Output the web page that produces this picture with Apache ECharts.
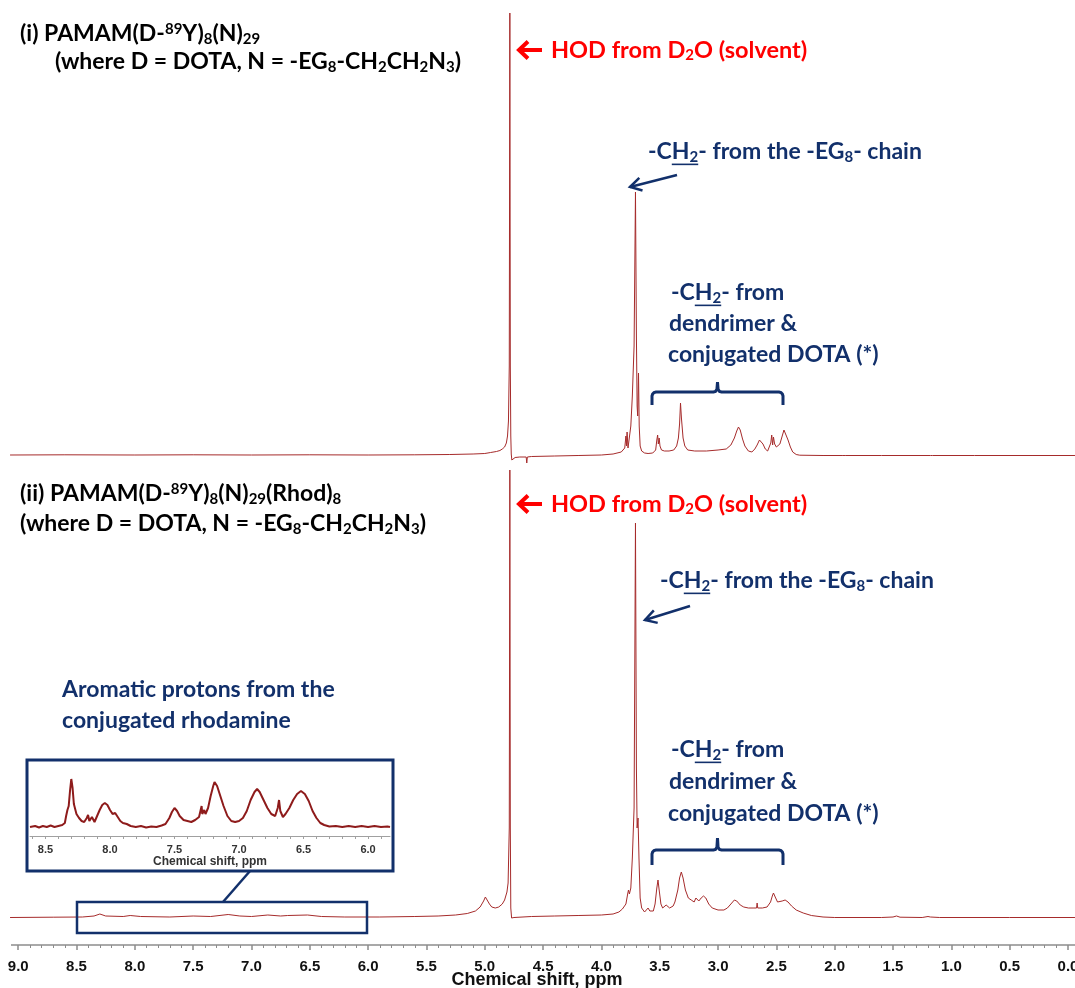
<!DOCTYPE html>
<html>
<head>
<meta charset="utf-8">
<script src="https://cdn.jsdelivr.net/npm/echarts@6/dist/echarts.min.js"></script>
<style>
  html, body { margin: 0; padding: 0; background: #fff; }
  #chart { width: 1075px; height: 988px; }
</style>
</head>
<body>
<div id="chart"></div>
<script>
// 1H NMR spectra in D2O: [chemical shift (ppm), intensity (a.u.)]
const spectrumI = [
  [9.07,1],[8.6,1.2],[8.0,1],[7.5,1.2],[7.0,1],[6.5,1.2],[6.0,1],[5.6,1.2],[5.3,1.5],[5.1,2],[5.0,2.5],
  [4.95,3.5],[4.9,4.5],[4.87,5.5],[4.85,7],[4.83,9],[4.815,13],[4.805,20],[4.797,35],[4.79,90],[4.785,443],
  [4.781,90],[4.777,20],[4.773,2],[4.768,-4],[4.755,-3],[4.74,-1.5],[4.70,-1],[4.645,-1],[4.64,-7],[4.635,-1],
  [4.60,-0.5],[4.4,0],[4.2,0.5],[4.0,1],[3.9,2],[3.83,4],[3.80,8],[3.79,20],[3.785,10],[3.78,24],[3.772,8],
  [3.762,10],[3.748,30],[3.735,60],[3.72,110],[3.708,264],[3.700,120],[3.694,50],[3.689,40],[3.682,83],[3.676,30],
  [3.668,10],[3.655,5],[3.63,3],[3.60,2.5],[3.56,3],[3.535,6],[3.525,16],[3.518,21],[3.512,12],[3.505,18],
  [3.498,10],[3.485,6],[3.46,5],[3.42,5],[3.38,6],[3.355,10],[3.34,18],[3.33,32],[3.322,53],[3.314,38],
  [3.30,18],[3.285,10],[3.26,6],[3.2,5],[3.1,5],[3.0,6],[2.93,7],[2.89,11],[2.86,18],[2.84,25],[2.825,29],
  [2.81,26],[2.79,17],[2.77,10],[2.74,5],[2.71,4],[2.685,7],[2.665,11],[2.645,16],[2.632,17],[2.615,12],
  [2.595,7],[2.575,5],[2.56,7],[2.548,13],[2.54,21],[2.532,11],[2.525,19],[2.515,12],[2.5,9],[2.49,8],
  [2.47,12],[2.45,20],[2.435,26],[2.42,24],[2.40,16],[2.38,9],[2.36,4],[2.33,1.5],[2.3,0.8],[2.1,0.5],
  [1.93,0.5],[1.92,2],[1.91,0.5],[1.6,0.5],[1.18,0.5],[1.17,2],[1.16,0.5],[0.8,0.5],[0.3,0.5],[-0.06,0.5]
];

const spectrumII = [
  [9.07,0.5],[8.7,0.8],[8.45,1],[8.35,2],[8.30,4],[8.25,2],[8.1,1.5],[8.04,2.5],[7.95,1.5],[7.7,1],[7.5,2],
  [7.35,1.5],[7.2,3.5],[7.1,2],[7.0,1.5],[6.86,3],[6.75,2],[6.69,2.5],[6.52,3],[6.4,1.5],[6.2,1],[5.9,1],
  [5.6,1.5],[5.4,2],[5.25,3],[5.15,4.5],[5.08,7],[5.04,11],[5.01,17],[4.995,21],[4.98,19],[4.96,14],[4.94,11],
  [4.91,10],[4.88,11],[4.85,14],[4.83,18],[4.81,26],[4.80,35],[4.79,90],[4.785,448],[4.781,90],[4.777,10],
  [4.77,0],[4.75,0.5],[4.6,1.5],[4.4,2],[4.2,2.5],[4.0,3],[3.9,4],[3.85,6],[3.82,9],[3.79,14],[3.775,24],
  [3.768,28],[3.76,24],[3.748,30],[3.735,60],[3.72,110],[3.708,395],[3.70,150],[3.694,90],[3.686,100],[3.678,60],
  [3.668,20],[3.655,10],[3.645,10],[3.63,6],[3.60,10],[3.585,7],[3.57,5],[3.555,7],[3.54,14],[3.525,30],
  [3.515,38],[3.505,28],[3.49,14],[3.475,10],[3.46,10],[3.445,13],[3.43,15],[3.415,10],[3.40,8],[3.385,12],
  [3.37,16],[3.36,18],[3.345,28],[3.33,40],[3.315,46],[3.30,40],[3.28,28],[3.255,20],[3.23,18],[3.205,16],
  [3.19,20],[3.18,19],[3.165,17],[3.145,20],[3.125,22],[3.105,20],[3.08,14],[3.05,10],[3.0,8],[2.95,8],
  [2.92,10],[2.89,14],[2.86,18],[2.84,17],[2.81,13],[2.78,11],[2.74,10],[2.70,10],[2.67,10],[2.665,15],
  [2.66,10],[2.62,10],[2.58,11],[2.55,16],[2.535,22],[2.525,25],[2.51,21],[2.49,16],[2.475,15],[2.45,17],
  [2.425,18],[2.40,16],[2.37,12],[2.33,8],[2.27,5],[2.2,2.5],[2.1,1],[2.0,0.5],[1.6,0.5],[1.5,1],[1.47,2],
  [1.44,0.8],[1.25,0.5],[1.2,1.5],[1.19,3],[1.18,1],[1.1,0.5],[0.5,0.5],[-0.06,0.5]
];

// expanded aromatic region of spectrum (ii)
const aromaticRegion = [
  [8.62,9],[8.58,10],[8.55,8.5],[8.52,10],[8.49,9],[8.46,10.5],[8.43,9],[8.40,10],[8.37,11],[8.35,13],
  [8.34,20],[8.33,26],[8.32,30],[8.31,45],[8.30,57],[8.29,48],[8.28,32],[8.26,22],[8.24,18],[8.22,15],
  [8.20,14],[8.18,18],[8.17,21],[8.16,15],[8.14,19],[8.12,14],[8.10,20],[8.08,26],[8.06,31],[8.04,33],
  [8.02,31],[8.00,26],[7.98,22],[7.96,23],[7.94,19],[7.92,15],[7.90,13],[7.87,12],[7.84,10],[7.80,9],
  [7.76,10],[7.72,8.5],[7.68,9.5],[7.64,9],[7.60,10.5],[7.57,12],[7.54,18],[7.52,24],[7.50,28],[7.48,25],
  [7.46,20],[7.43,16],[7.40,15],[7.37,14],[7.34,16],[7.31,19],[7.29,30],[7.285,22],[7.27,26],[7.26,22],
  [7.24,28],[7.22,40],[7.20,50],[7.19,54],[7.17,50],[7.15,42],[7.12,30],[7.09,20],[7.06,15],[7.03,14],
  [7.00,15],[6.97,18],[6.94,25],[6.91,36],[6.88,44],[6.86,47],[6.84,44],[6.81,36],[6.78,28],[6.75,22],
  [6.72,20],[6.70,28],[6.69,36],[6.68,25],[6.66,19],[6.64,22],[6.61,28],[6.58,36],[6.55,42],[6.52,45],
  [6.49,42],[6.46,35],[6.43,25],[6.40,18],[6.37,13],[6.34,11],[6.30,9.5],[6.25,10],[6.20,9],[6.15,10],
  [6.10,9],[6.05,10],[6.00,9],[5.95,10],[5.90,9],[5.85,9.5],[5.83,9]
];

const insetTickLabels = [6.0, 6.5, 7.0, 7.5, 8.0, 8.5];
const insetMinorTicks = [];
for (let v = 59; v <= 86; v++) insetMinorTicks.push(v / 10);

const LINE = '#A62B2B';
const NAVY = '#12306B';
const RED = '#FF0000';
const FONT = 'Lato';
const AXFONT = 'Liberation Sans';
const SUB = 0.64;

// text measuring for underlines
const mctx = document.createElement('canvas').getContext('2d');
function tw(text, size) { mctx.font = 'bold ' + size + 'px ' + FONT; return mctx.measureText(text).width; }

function richStyles(size, color) {
  const s = Math.round(size * SUB);
  const p = Math.round(size * 0.44);
  return {
    n: { fontSize: size, fontWeight: 'bold', fontFamily: FONT, fill: color },
    sub: { fontSize: s, fontWeight: 'bold', fontFamily: FONT, fill: color, padding: [p, 0, 0, 0] },
    sup: { fontSize: s, fontWeight: 'bold', fontFamily: FONT, fill: color, padding: [0, 0, p, 0] }
  };
}
function label(x, y, text, size, color) {
  return {
    type: 'text', x: x, y: y, z: 100,
    style: {
      text: text, rich: richStyles(size, color), fill: color,
      font: 'bold ' + size + 'px ' + FONT, textAlign: 'left', textVerticalAlign: 'middle'
    }
  };
}
// underline under the "H2" of a leading "-CH2-"
function underlineCH2(x, y, size, color) {
  const s = Math.round(size * SUB);
  const x0 = x + tw('-C', size);
  const x1 = x0 + tw('H', size) + tw('2', s);
  const yy = y + size * 0.32 + 5;
  return { type: 'line', z: 100, shape: { x1: x0, y1: yy, x2: x1, y2: yy }, style: { stroke: color, lineWidth: 1.6 } };
}
function bigArrow(x, y) {
  return [
    { type: 'polyline', z: 100, shape: { points: [[x + 10, y - 8.5], [x + 1, y], [x + 10, y + 8.5]] },
      style: { stroke: RED, lineWidth: 4, fill: null, lineJoin: 'miter' } },
    { type: 'line', z: 100, shape: { x1: x + 2, y1: y, x2: x + 24, y2: y }, style: { stroke: RED, lineWidth: 4 } }
  ];
}
function thinArrow(x1, y1, x2, y2) {
  const L = Math.hypot(x1 - x2, y1 - y2);
  const ux = (x1 - x2) / L, uy = (y1 - y2) / L;
  const a = Math.PI / 6, h = 13;
  const p1 = [x2 + h * (ux * Math.cos(a) - uy * Math.sin(a)), y2 + h * (ux * Math.sin(a) + uy * Math.cos(a))];
  const p2 = [x2 + h * (ux * Math.cos(a) + uy * Math.sin(a)), y2 + h * (-ux * Math.sin(a) + uy * Math.cos(a))];
  return [
    { type: 'line', z: 100, shape: { x1: x1, y1: y1, x2: x2, y2: y2 }, style: { stroke: NAVY, lineWidth: 2.5 } },
    { type: 'polyline', z: 100, shape: { points: [p1, [x2, y2], p2] }, style: { stroke: NAVY, lineWidth: 2.5, fill: null } }
  ];
}
// curly bracket opening downward, with a small notch in the middle
function brace(x1, x2, y, yEnd, yTop) {
  const xm = (x1 + x2) / 2;
  const pts = [
    [x1, yEnd], [x1, y + 4], [x1 + 0.6, y + 2], [x1 + 2, y + 0.6], [x1 + 4, y],
    [xm - 4, y], [xm - 2, y - 0.6], [xm - 0.6, y - 2.5], [xm, yTop],
    [xm + 0.6, y - 2.5], [xm + 2, y - 0.6], [xm + 4, y],
    [x2 - 4, y], [x2 - 2, y + 0.6], [x2 - 0.6, y + 2], [x2, y + 4], [x2, yEnd]
  ];
  return { type: 'polyline', z: 100, shape: { points: pts }, style: { stroke: NAVY, lineWidth: 3, fill: null } };
}

const T_BLACK = 23, T_RED = 23.5, T_NAVY = 23;
const chainLabel = '{n|-CH}{sub|2}{n|- from the -EG}{sub|8}{n|- chain}';
const whereLabel = '{n|(where D = DOTA, N = -EG}{sub|8}{n|-CH}{sub|2}{n|CH}{sub|2}{n|N}{sub|3}{n|)}';
const hodLabel = '{n|HOD from D}{sub|2}{n|O (solvent)}';

const graphics = [
  { type: 'rect', z: 90, shape: { x: 0, y: 938, width: 11, height: 14 }, style: { fill: '#fff' } },
  // axis title
  { type: 'text', x: 537, y: 980, z: 100,
    style: { text: 'Chemical shift, ppm', font: 'bold 18px ' + AXFONT, fill: '#111', textAlign: 'center', textVerticalAlign: 'middle' } },
  // spectrum (i)
  label(20, 34, '{n|(i) PAMAM(D-}{sup|89}{n|Y)}{sub|8}{n|(N)}{sub|29}', T_BLACK, '#000'),
  label(55, 62, whereLabel, T_BLACK, '#000'),
  ...bigArrow(518, 50),
  label(551, 50, hodLabel, T_RED, RED),
  label(648, 152, chainLabel, T_NAVY, NAVY),
  underlineCH2(648, 152, T_NAVY, NAVY),
  ...thinArrow(677, 175, 630, 187),
  label(671, 293, '{n|-CH}{sub|2}{n|- from}', T_NAVY, NAVY),
  underlineCH2(671, 293, T_NAVY, NAVY),
  label(669, 324, '{n|dendrimer &}', T_NAVY, NAVY),
  label(668, 355, '{n|conjugated DOTA (*)}', T_NAVY, NAVY),
  brace(652, 783, 392, 405, 382),
  // spectrum (ii)
  label(20, 494, '{n|(ii) PAMAM(D-}{sup|89}{n|Y)}{sub|8}{n|(N)}{sub|29}{n|(Rhod)}{sub|8}', T_BLACK, '#000'),
  label(20, 524, whereLabel, T_BLACK, '#000'),
  ...bigArrow(518, 504),
  label(551, 504, hodLabel, T_RED, RED),
  label(660, 581, chainLabel, T_NAVY, NAVY),
  underlineCH2(660, 581, T_NAVY, NAVY),
  ...thinArrow(690, 606, 645, 620),
  label(671, 750, '{n|-CH}{sub|2}{n|- from}', T_NAVY, NAVY),
  underlineCH2(671, 750, T_NAVY, NAVY),
  label(669, 782, '{n|dendrimer &}', T_NAVY, NAVY),
  label(668, 814, '{n|conjugated DOTA (*)}', T_NAVY, NAVY),
  brace(652, 783, 850, 865, 838),
  label(62, 690, '{n|Aromatic protons from the}', T_NAVY, NAVY),
  label(62, 721, '{n|conjugated rhodamine}', T_NAVY, NAVY),
  // inset frame, highlighted region and connector
  { type: 'rect', z: 100, shape: { x: 27, y: 760, width: 366, height: 111 }, style: { stroke: NAVY, lineWidth: 3, fill: null } },
  { type: 'rect', z: 100, shape: { x: 77, y: 902, width: 290, height: 31 }, style: { stroke: NAVY, lineWidth: 2.5, fill: null } },
  { type: 'line', z: 100, shape: { x1: 250, y1: 871, x2: 223, y2: 902 }, style: { stroke: NAVY, lineWidth: 2.5 } }
];

const hiddenX = (gi) => ({
  gridIndex: gi, type: 'value', min: -0.5, max: 9.5, interval: 0.5, inverse: true, show: false
});

const option = {
  animation: false,
  backgroundColor: '#fff',
  grid: [
    { left: -40.1, right: -51.3, top: 0, bottom: 532, outerBoundsMode: 'none', containLabel: false },
    // spectrum (ii) sits 27 px above the shared ppm axis
    { left: -40.1, right: -51.3, top: 462, bottom: 43, outerBoundsMode: 'none', containLabel: false },
    { left: 30, right: 685, top: 770, bottom: 152, outerBoundsMode: 'none', containLabel: false }
  ],
  xAxis: [
    hiddenX(0),
    {
      gridIndex: 1, type: 'value', min: -0.5, max: 9.5, interval: 0.5, inverse: true,
      axisLine: { onZero: false, lineStyle: { color: '#8c8c8c', width: 1.5 } },
      axisTick: { length: 5, lineStyle: { color: '#8c8c8c', width: 1.5 } },
      minorTick: { show: true, splitNumber: 5, length: 3, lineStyle: { color: '#8c8c8c', width: 1 } },
      splitLine: { show: false }, minorSplitLine: { show: false },
      axisLabel: { margin: 14, fontSize: 15, fontWeight: 'bold', fontFamily: AXFONT, color: '#111',
        formatter: (v) => Math.abs(v).toFixed(1) }
    },
    {
      gridIndex: 2, type: 'value', min: 5.83, max: 8.62, inverse: true,
      axisLine: { onZero: false, lineStyle: { color: '#a0a0a0', width: 1 } },
      axisTick: { customValues: insetMinorTicks, length: 3, lineStyle: { color: '#a0a0a0' } },
      splitLine: { show: false },
      axisLabel: { customValues: insetTickLabels, margin: 8, fontSize: 11, fontWeight: 'bold', fontFamily: AXFONT,
        color: '#333', formatter: (v) => v.toFixed(1) },
      name: 'Chemical shift, ppm', nameLocation: 'middle', nameGap: 20,
      nameTextStyle: { fontSize: 12, fontWeight: 'bold', fontFamily: AXFONT, color: '#333' }
    }
  ],
  yAxis: [
    { gridIndex: 0, type: 'value', min: 0, max: 456, show: false },
    { gridIndex: 1, type: 'value', min: -27, max: 456, show: false },
    { gridIndex: 2, type: 'value', min: 0, max: 66, show: false }
  ],
  series: [
    { type: 'line', xAxisIndex: 0, yAxisIndex: 0, data: spectrumI, showSymbol: false, symbol: 'none',
      clip: false, lineStyle: { color: LINE, width: 1 } },
    { type: 'line', xAxisIndex: 1, yAxisIndex: 1, data: spectrumII, showSymbol: false, symbol: 'none',
      clip: false, lineStyle: { color: LINE, width: 1 } },
    { type: 'line', xAxisIndex: 2, yAxisIndex: 2, data: aromaticRegion, showSymbol: false, symbol: 'none',
      clip: false, lineStyle: { color: '#8E1B1B', width: 2 } }
  ],
  graphic: { elements: graphics }
};

const chart = echarts.init(document.getElementById('chart'), null, { renderer: 'canvas' });
chart.setOption(option);
</script>
</body>
</html>
